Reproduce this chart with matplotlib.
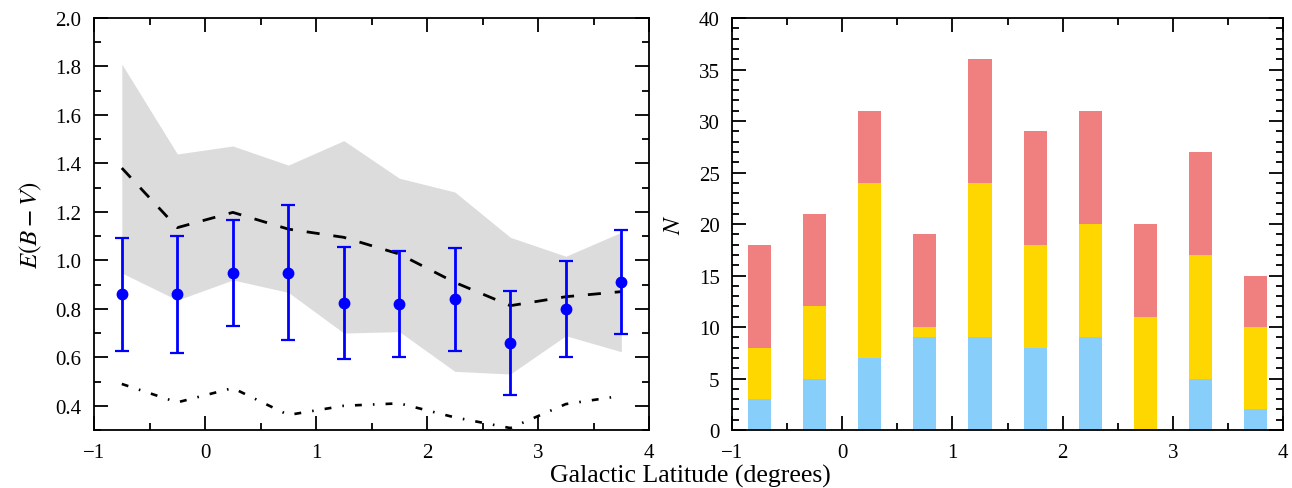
import numpy as np
import matplotlib.pyplot as plt
from matplotlib.ticker import MultipleLocator

plt.rcParams['font.family'] = ['Liberation Serif', 'DejaVu Serif']
plt.rcParams['mathtext.fontset'] = 'stix'

# latitude bins (centres)
lat = [-0.75, -0.25, 0.25, 0.75, 1.25, 1.75, 2.25, 2.75, 3.25, 3.75]

# left panel: E(B-V)
ebv = [0.86, 0.86, 0.948, 0.948, 0.824, 0.82, 0.839, 0.659, 0.799, 0.909]
ebv_hi = [1.092, 1.10, 1.168, 1.228, 1.055, 1.038, 1.052, 0.875, 0.996, 1.125]
ebv_lo = [0.627, 0.619, 0.731, 0.671, 0.594, 0.603, 0.627, 0.445, 0.603, 0.696]
band_hi = [1.81, 1.439, 1.472, 1.393, 1.494, 1.339, 1.282, 1.095, 1.017, 1.116]
band_lo = [0.948, 0.836, 0.919, 0.868, 0.700, 0.706, 0.542, 0.531, 0.689, 0.623]
dashed = [1.381, 1.135, 1.198, 1.129, 1.095, 1.026, 0.909, 0.813, 0.850, 0.871]
dashdot = [0.490, 0.414, 0.473, 0.362, 0.400, 0.410, 0.352, 0.308, 0.407, 0.441]

# right panel: counts
n_blue = [3, 5, 7, 9, 9, 8, 9, 0, 5, 2]
n_yellow = [5, 7, 17, 1, 15, 10, 11, 11, 12, 8]
n_red = [10, 9, 7, 9, 12, 11, 11, 9, 10, 5]

fig = plt.figure(figsize=(12.92, 4.89), dpi=100)
ax1 = fig.add_axes([0.0728, 0.1186, 0.4296, 0.8425])
ax2 = fig.add_axes([0.5666, 0.1186, 0.4265, 0.8425])

ebv = np.array(ebv)
yerr = [ebv - np.array(ebv_lo), np.array(ebv_hi) - ebv]
ax1.fill_between(lat, band_lo, band_hi, color='#dcdcdc', lw=0)
ax1.plot(lat, dashed, color='black', ls=(0, (4.7, 5)), lw=2)
ax1.plot(lat, dashdot, color='black', ls=(0, (2.6, 4.2, 0.6, 4.2)), lw=1.9)
ax1.errorbar(lat, ebv, yerr=yerr, fmt='o', color='blue', ms=7.5, elinewidth=2,
             capsize=5.2, capthick=1.6)
ax1.set_xlim(-1, 4)
ax1.set_ylim(0.3, 2.0)
ax1.yaxis.set_minor_locator(MultipleLocator(0.1))
ax1.set_yticks(np.arange(0.4, 2.01, 0.2))
ax1.set_ylabel('$E(B-V)$', fontsize=18, labelpad=8)

bot2 = np.array(n_blue) + np.array(n_yellow)
ax2.bar(lat, n_blue, width=0.21, color='#87cefa')
ax2.bar(lat, n_yellow, width=0.21, bottom=n_blue, color='#ffd700')
ax2.bar(lat, n_red, width=0.21, bottom=bot2, color='#f08080')
ax2.set_xlim(-1, 4)
ax2.set_ylim(0, 40)
ax2.yaxis.set_major_locator(MultipleLocator(5))
ax2.yaxis.set_minor_locator(MultipleLocator(1))
ax2.set_ylabel('$N$', fontsize=18, labelpad=10)

for ax in (ax1, ax2):
    ax.xaxis.set_major_locator(MultipleLocator(1))
    ax.xaxis.set_minor_locator(MultipleLocator(0.5))
    ax.tick_params(which='both', direction='in', top=True, right=True,
                   labelsize=15, width=1.3, pad=9)
    ax.tick_params(which='major', length=10)
    ax.tick_params(which='minor', length=5)
    ax.set_xticks([-1, 0, 1, 2, 3, 4])
    ax.set_xticklabels(['\u22121', '0', '1', '2', '3', '4'])
    for s in ax.spines.values():
        s.set_linewidth(1.3)

fig.text(0.534, 0.013, 'Galactic Latitude (degrees)', ha='center', va='baseline',
         fontsize=18.5)

plt.savefig('out.png', dpi=100)
